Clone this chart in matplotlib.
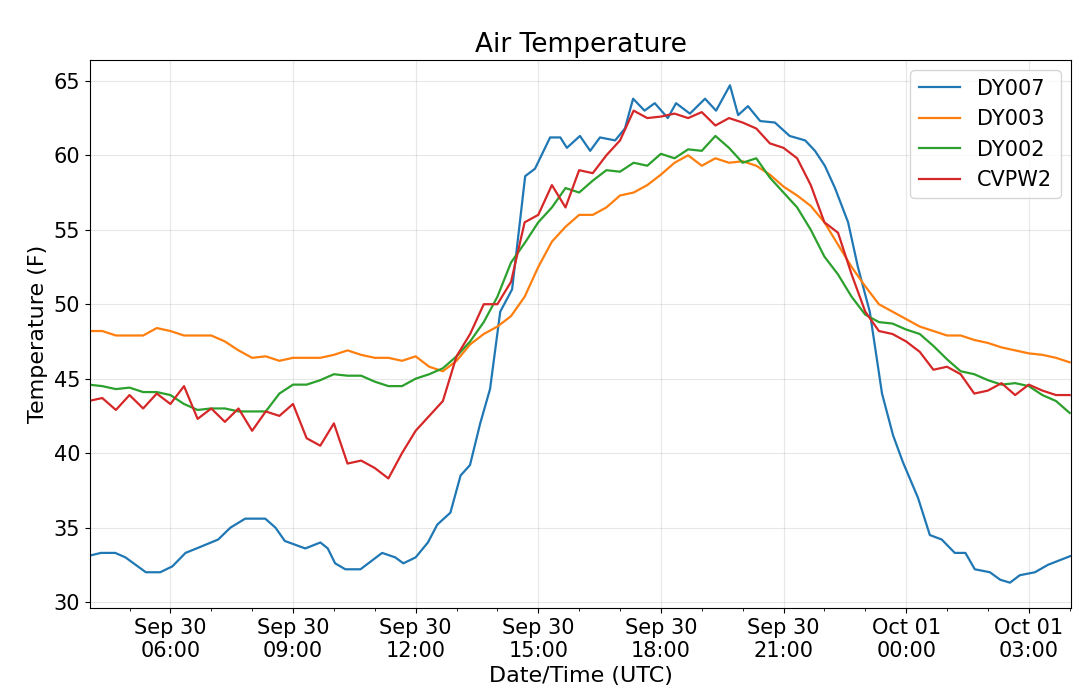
import matplotlib
matplotlib.use("Agg")
import matplotlib.pyplot as plt
import matplotlib.dates as mdates
from datetime import datetime, timedelta

start = datetime(2019, 9, 30, 0, 0)
times = [start + timedelta(hours=4, minutes=20 * i) for i in range(73)]

# DY007: hours since Sep 30 00:00 and values
dy007_h = [4.0, 4.3, 4.65, 4.9, 5.15, 5.4, 5.75, 6.05, 6.37, 6.73, 7.17, 7.47, 7.83, 8.32, 8.57, 8.8,
           9.3, 9.67, 9.85, 10.03, 10.28, 10.65, 11.18, 11.5, 11.7, 12.0, 12.3, 12.53, 12.85, 13.1,
           13.33, 13.58, 13.82, 14.07, 14.36, 14.68, 14.92, 15.29, 15.54, 15.7, 16.02, 16.27, 16.51,
           16.88, 17.12, 17.32, 17.6, 17.85, 18.17, 18.37, 18.71, 19.08, 19.35, 19.69, 19.89, 20.13,
           20.43, 20.79, 21.15, 21.53, 21.77, 22.01, 22.26, 22.58, 22.82, 23.11, 23.41, 23.68, 23.92,
           24.29, 24.58, 24.87, 25.19, 25.45, 25.68, 26.05, 26.3, 26.54, 26.78, 27.15, 27.47, 28.03]
dy007 = [33.1, 33.3, 33.3, 33.0, 32.5, 32.0, 32.0, 32.4, 33.3, 33.7, 34.2, 35.0, 35.6, 35.6, 35.0, 34.1,
         33.6, 34.0, 33.6, 32.6, 32.2, 32.2, 33.3, 33.0, 32.6, 33.0, 34.0, 35.2, 36.0, 38.5,
         39.2, 42.0, 44.3, 49.5, 51.0, 58.6, 59.1, 61.2, 61.2, 60.5, 61.3, 60.3, 61.2,
         61.0, 61.8, 63.8, 63.0, 63.5, 62.5, 63.5, 62.8, 63.8, 63.0, 64.7, 62.7, 63.3,
         62.3, 62.2, 61.3, 61.0, 60.3, 59.3, 57.8, 55.5, 52.5, 49.5, 44.0, 41.2, 39.4,
         37.0, 34.5, 34.2, 33.3, 33.3, 32.2, 32.0, 31.5, 31.3, 31.8, 32.0, 32.5, 33.1]

dy003 = [48.2, 48.2, 47.9, 47.9, 47.9, 48.4, 48.2, 47.9, 47.9, 47.9, 47.5, 46.9, 46.4, 46.5, 46.2, 46.4,
         46.4, 46.4, 46.6, 46.9, 46.6, 46.4, 46.4, 46.2, 46.5, 45.8, 45.5, 46.2, 47.3, 48.0, 48.5, 49.2,
         50.5, 52.5, 54.2, 55.2, 56.0, 56.0, 56.5, 57.3, 57.5, 58.0, 58.7, 59.5, 60.0, 59.3, 59.8, 59.5,
         59.6, 59.3, 58.7, 57.9, 57.3, 56.6, 55.5, 54.0, 52.5, 51.2, 50.0, 49.5, 49.0, 48.5, 48.2, 47.9,
         47.9, 47.6, 47.4, 47.1, 46.9, 46.7, 46.6, 46.4, 46.1]

dy002 = [44.6, 44.5, 44.3, 44.4, 44.1, 44.1, 43.9, 43.3, 42.9, 43.0, 43.0, 42.8, 42.8, 42.8, 44.0, 44.6,
         44.6, 44.9, 45.3, 45.2, 45.2, 44.8, 44.5, 44.5, 45.0, 45.3, 45.7, 46.5, 47.5, 48.8, 50.5, 52.8,
         54.1, 55.5, 56.5, 57.8, 57.5, 58.3, 59.0, 58.9, 59.5, 59.3, 60.1, 59.8, 60.4, 60.3, 61.3, 60.5,
         59.5, 59.8, 58.5, 57.5, 56.5, 55.0, 53.2, 52.0, 50.5, 49.3, 48.8, 48.7, 48.3, 48.0, 47.2, 46.3,
         45.5, 45.3, 44.9, 44.6, 44.7, 44.5, 43.9, 43.5, 42.7]

cvpw2 = [43.5, 43.7, 42.9, 43.9, 43.0, 44.0, 43.3, 44.5, 42.3, 43.0, 42.1, 43.0, 41.5, 42.8, 42.5, 43.3,
         41.0, 40.5, 42.0, 39.3, 39.5, 39.0, 38.3, 40.0, 41.5, 42.5, 43.5, 46.5, 48.0, 50.0, 50.0, 51.5,
         55.5, 56.0, 58.0, 56.5, 59.0, 58.8, 60.0, 61.0, 63.0, 62.5, 62.6, 62.8, 62.5, 62.9, 62.0, 62.5,
         62.2, 61.8, 60.8, 60.5, 59.8, 58.0, 55.5, 54.8, 52.0, 49.5, 48.2, 48.0, 47.5, 46.8, 45.6, 45.8,
         45.3, 44.0, 44.2, 44.7, 43.9, 44.6, 44.2, 43.9, 43.9]

dy007_t = [start + timedelta(hours=h) for h in dy007_h]
series = [("DY007", dy007_t, dy007, "#1f77b4"), ("DY003", times, dy003, "#ff7f0e"),
          ("DY002", times, dy002, "#2ca02c"), ("CVPW2", times, cvpw2, "#d62728")]

fig = plt.figure(figsize=(10.79, 6.98), dpi=100)
ax = fig.add_axes([90/1079, 1 - 608/698, (1071-90)/1079, (608-60)/698])
for name, t, vals, c in series:
    ax.plot(t, vals, color=c, lw=1.6, label=name)

ax.set_xlim(start + timedelta(hours=4, minutes=2), start + timedelta(hours=28, minutes=2))
ax.set_ylim(29.6, 66.4)
ax.set_yticks([30, 35, 40, 45, 50, 55, 60, 65])
ax.xaxis.set_major_locator(mdates.HourLocator(byhour=[0, 3, 6, 9, 12, 15, 18, 21]))
ax.xaxis.set_major_formatter(mdates.DateFormatter("%b %d\n%H:%M"))
ax.xaxis.set_minor_locator(mdates.HourLocator())
ax.tick_params(labelsize=15)
ax.grid(True, alpha=0.3)
ax.set_title("Air Temperature", fontsize=19)
ax.set_xlabel("Date/Time (UTC)", fontsize=16)
ax.set_ylabel("Temperature (F)", fontsize=16)
ax.legend(fontsize=15, loc="upper right")
fig.savefig("out.png", dpi=100)
